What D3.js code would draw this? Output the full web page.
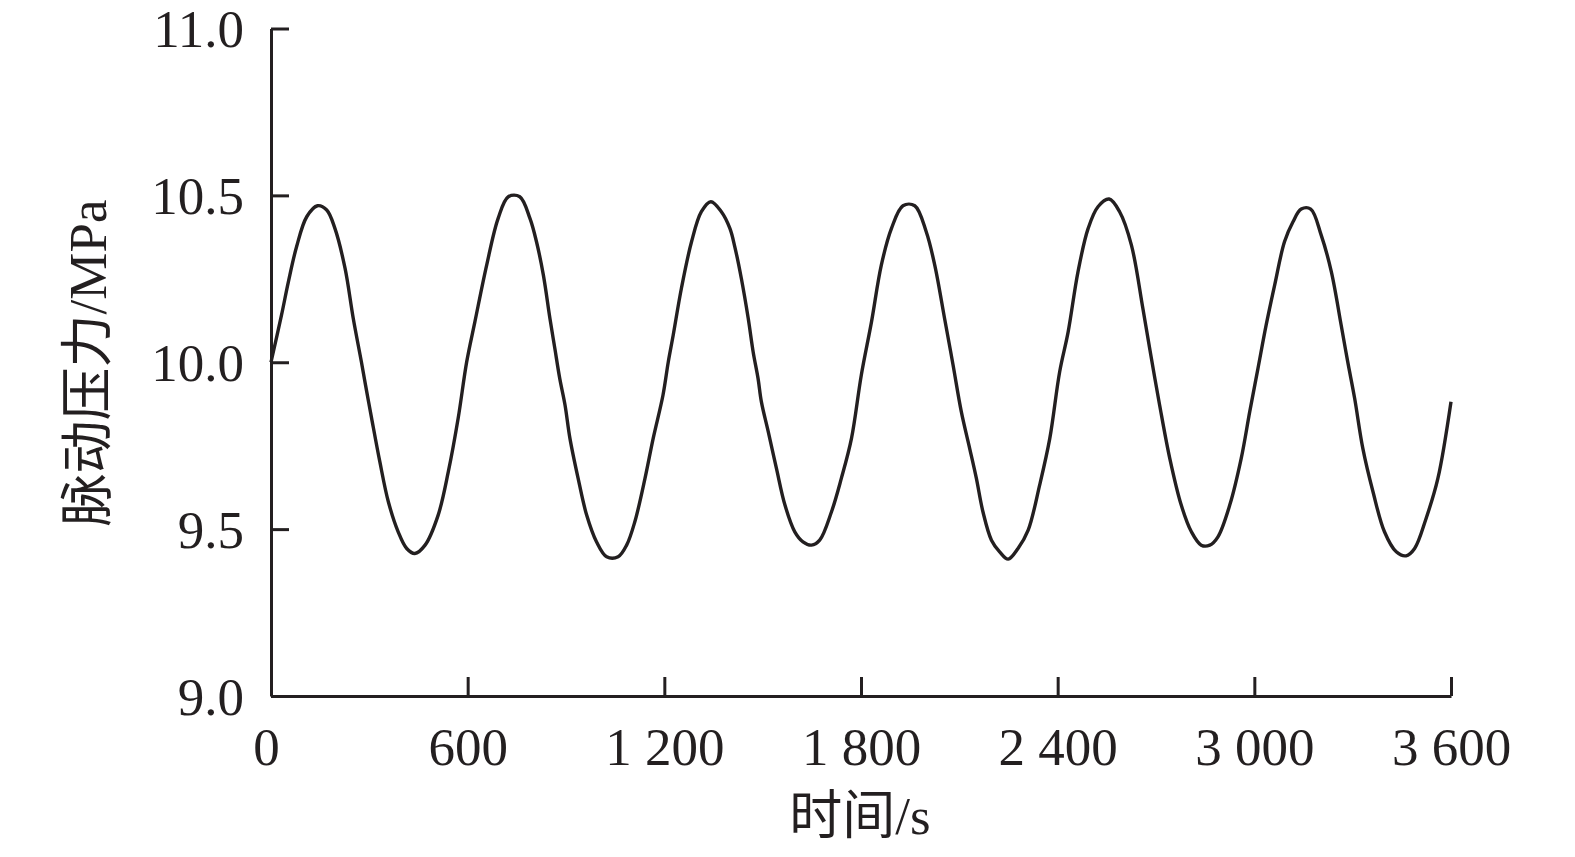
<!DOCTYPE html>
<html>
<head>
<meta charset="utf-8">
<script src="https://cdn.jsdelivr.net/npm/d3@7"></script>
<style>
  html, body { margin: 0; padding: 0; background: #ffffff; }
  svg { display: block; }
</style>
</head>
<body>
<svg id="chart" width="1575" height="857"></svg>
<script>
// ---- data ----
const timeS = [0, 32, 53, 78, 109, 142, 170, 195, 226, 251, 276, 292, 307, 332, 358, 388, 414, 439, 470, 510,
  541, 571, 597, 622, 658, 693, 724, 759, 790, 810, 831, 851, 866, 881, 897, 912, 937, 963, 993, 1024,
  1059, 1085, 1110, 1141, 1166, 1196, 1212, 1227, 1252, 1283, 1313, 1342, 1374, 1400, 1415, 1435, 1456, 1471, 1486, 1496,
  1517, 1542, 1568, 1598, 1623, 1649, 1674, 1710, 1740, 1771, 1801, 1832, 1862, 1893, 1928, 1964, 1999, 2025, 2055, 2081,
  2106, 2132, 2152, 2172, 2198, 2223, 2249, 2279, 2310, 2345, 2376, 2406, 2432, 2462, 2493, 2523, 2557, 2589, 2625, 2660,
  2686, 2711, 2742, 2777, 2808, 2838, 2864, 2889, 2925, 2960, 2986, 3011, 3036, 3062, 3092, 3118, 3143, 3172, 3204, 3235,
  3265, 3285, 3306, 3331, 3362, 3397, 3433, 3463, 3489, 3524, 3560, 3600];
const pressureMPa = [10.000, 10.141, 10.241, 10.346, 10.436, 10.469, 10.456, 10.401, 10.281, 10.131, 10.000, 9.912, 9.832, 9.702, 9.582, 9.492, 9.442, 9.427, 9.452, 9.542,
  9.672, 9.832, 10.001, 10.121, 10.291, 10.431, 10.496, 10.496, 10.431, 10.361, 10.261, 10.131, 10.041, 9.951, 9.872, 9.772, 9.652, 9.542, 9.462, 9.417,
  9.417, 9.452, 9.522, 9.652, 9.772, 9.902, 10.001, 10.081, 10.221, 10.361, 10.451, 10.481, 10.451, 10.401, 10.346, 10.251, 10.131, 10.031, 9.951, 9.882,
  9.792, 9.682, 9.572, 9.492, 9.462, 9.452, 9.467, 9.552, 9.652, 9.772, 9.962, 10.121, 10.291, 10.401, 10.469, 10.469, 10.391, 10.291, 10.131, 9.991,
  9.852, 9.740, 9.652, 9.552, 9.467, 9.432, 9.410, 9.442, 9.497, 9.632, 9.772, 9.971, 10.091, 10.271, 10.401, 10.466, 10.489, 10.451, 10.351, 10.161,
  10.011, 9.872, 9.712, 9.572, 9.492, 9.452, 9.452, 9.477, 9.572, 9.712, 9.852, 9.981, 10.111, 10.231, 10.361, 10.421, 10.459, 10.459, 10.381, 10.271,
  10.111, 10.001, 9.892, 9.742, 9.612, 9.492, 9.432, 9.420, 9.442, 9.532, 9.652, 9.882];
const xTicks = [0, 600, 1200, 1800, 2400, 3000, 3600];
const yTicks = [9.0, 9.5, 10.0, 10.5, 11.0];
const xTitle = "时间/s";
const yTitle = "脉动压力/MPa";

// ---- layout ----
const ink = "#231f20";
const fontStack = "'Liberation Serif', 'Times New Roman', 'Noto Sans CJK SC', serif";
const svg = d3.select("#chart");

const x = d3.scaleLinear().domain([0, 3600]).range([271, 1451]);
const y = d3.scaleLinear().domain([9, 11]).range([696, 28.5]);

const fmtX = d => d >= 1000 ? d3.format(",")(d).replace(/,/g, " ") : String(d);

// y axis (ticks point inward)
const gy = svg.append("g")
  .attr("transform", `translate(${x(0)},0)`)
  .call(d3.axisLeft(y).tickValues(yTicks).tickFormat(d3.format(".1f"))
        .tickSizeInner(-18).tickSizeOuter(0).tickPadding(27));

// x axis (ticks point inward)
const gx = svg.append("g")
  .attr("transform", `translate(0,${y(9)})`)
  .call(d3.axisBottom(x).tickValues(xTicks).tickFormat(fmtX)
        .tickSizeInner(-19).tickSizeOuter(0).tickPadding(32));

[gx, gy].forEach(g => {
  g.attr("font-family", null).attr("font-size", null);
  g.selectAll(".domain").attr("stroke", ink).attr("stroke-width", 3);
  g.selectAll(".tick line").attr("stroke", ink).attr("stroke-width", 3);
  g.selectAll(".tick text")
    .attr("fill", ink)
    .style("font-family", fontStack)
    .style("font-size", "53px");
});
gx.selectAll(".tick text").attr("dy", "0.69em");
gx.selectAll(".tick text").filter(d => d === 0).attr("dx", -5);
gy.selectAll(".tick text").attr("dy", "0.34em");

// curve
const line = d3.line()
  .x((d, i) => x(timeS[i]))
  .y(d => y(d))
  .curve(d3.curveCatmullRom.alpha(0.5));

svg.append("path")
  .datum(pressureMPa)
  .attr("d", line)
  .attr("fill", "none")
  .attr("stroke", ink)
  .attr("stroke-width", 3.4)
  .attr("stroke-linejoin", "round");

// axis titles
svg.append("text")
  .attr("x", 860)
  .attr("y", 834)
  .attr("text-anchor", "middle")
  .attr("fill", ink)
  .style("font-family", fontStack)
  .style("font-size", "53px")
  .text(xTitle);

svg.append("text")
  .attr("transform", "translate(106,363) rotate(-90)")
  .attr("text-anchor", "middle")
  .attr("fill", ink)
  .style("font-family", fontStack)
  .style("font-size", "53px")
  .text(yTitle);
</script>
</body>
</html>
